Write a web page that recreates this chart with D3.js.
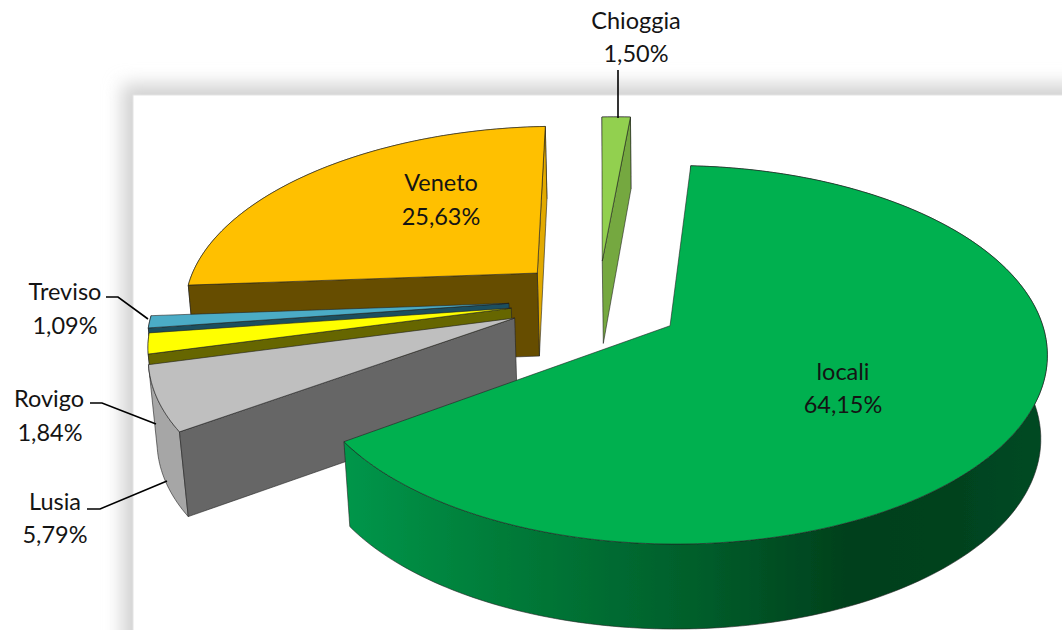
<!DOCTYPE html>
<html><head><meta charset="utf-8">
<script src="https://cdn.jsdelivr.net/npm/d3@7"></script>
<style>html,body{margin:0;padding:0;background:#fff}svg{display:block}text{font-family:Lato,"Open Sans",sans-serif;font-size:23.5px;fill:#141414;text-anchor:middle}</style>
</head><body><svg id="c" width="1062" height="630"></svg>
<script>
// ---- data ----
const categories = ["locali","Lusia","Rovigo","Treviso","Veneto","Chioggia"];
const shares = [64.15,5.79,1.84,1.09,25.63,1.50];
const shareLabels = ["64,15%","5,79%","1,84%","1,09%","25,63%","1,50%"];
// ---- styles ----
const topColors  = ["#00b050","#bfbfbf","#ffff00","#4bacc6","#ffc000","#92d050"];
const startFaceColors = ["#00803a","#666666","#666600","#1e4f5e","#664d00","#75a840"];
const endFaceColors = ["#00803a","#666666","#666600","#1e4f5e","#e2aa00","#75a840"];
const rimColors  = ["url(#rimGrad)","#a6a6a6","#666600","#1e4f5e","#664d00","#75a840"];
// ---- layout ----
const labelPos = [[843,372],[55,502],[49,399],[65,292],[441,183],[636,21]];
const valuePos = [[843,405],[55,535],[50,433],[65,326],[441,217],[636,54]];
const leaders = [null,
  [[87,509],[100,509],[167,481]],
  [[90,403],[102,403],[156,424]],
  [[106,297],[118,297],[148,319]],
  null,
  [[618,70],[618,118]]];
const sliceNudge = [[-0.012,-0.011],[-0.008,0.015],[-0.003,0.015],[-0.008,0.02],[0,0.008],[0,0]];
const sliceDepth = [1,1,0.3,0.3,1,1];

const svg = d3.select("#c");
const defs = svg.append("defs");
defs.append("filter").attr("id","soft").attr("x","-20%").attr("y","-20%").attr("width","140%").attr("height","140%")
  .append("feGaussianBlur").attr("stdDeviation",9);
defs.append("filter").attr("id","crisp").attr("filterUnits","userSpaceOnUse").attr("x",0).attr("y",0).attr("width",1062).attr("height",630)
  .append("feGaussianBlur").attr("stdDeviation",0.35);
const g = defs.append("linearGradient").attr("id","rimGrad").attr("gradientUnits","userSpaceOnUse")
  .attr("x1",345).attr("x2",1047).attr("y1",0).attr("y2",0);
[[0,"#00964a"],[.22,"#007c39"],[.5,"#005e2b"],[.72,"#00401c"],[.88,"#00431f"],[1,"#004a24"]]
  .forEach(s=>g.append("stop").attr("offset",s[0]).attr("stop-color",s[1]));

// plot-area panel with soft shadow
svg.append("rect").attr("x",122).attr("y",84).attr("width",1100).attr("height",700).attr("fill","#d2d2d2").attr("filter","url(#soft)");
svg.append("rect").attr("x",133).attr("y",95).attr("width",1000).attr("height",600).attr("fill","#fff").attr("stroke","#e4e4e4");

// perspective mapping of the pie plane
const X0=668.5, Y0=325, A=368, B=184.5, K=0.1534, L=0.012, M=0.017;
const explode=0.242, center=[-0.195,0.125], R=1;
const depth=d3.scaleLinear().domain([0.85,0.914,1.05,1.21]).range([85,85,83,72]).clamp(true);
const W=(u,v)=>1+K*v-L*u;
const proj=(u,v)=>{const w=W(u,v);return [X0+A*u/w,Y0-B*v/w];};
const projB=(u,v,f)=>{const w=W(u,v);return [X0+A*u/(w+M*f),Y0-B*v/w+f*depth(w)];};

const start=3.75*Math.PI/180;
const pie=d3.pie().sort(null).startAngle(start).endAngle(start+2*Math.PI);
const arcs=pie(shares);
const line=d3.line();
const chart=svg.append("g").attr("filter","url(#crisp)");
const order=[4,5,3,2,1,0];
const camera=[0,-6];
const faces=(t,side,ax,ay)=>{const n=t+side*Math.PI/2;return Math.sin(n)*(camera[0]-ax)+Math.cos(n)*(camera[1]-ay)>0;};

order.forEach(i=>{
  const a=arcs[i], mid=(a.startAngle+a.endAngle)/2, f=sliceDepth[i];
  const ax=center[0]+explode*Math.sin(mid)+sliceNudge[i][0], ay=center[1]+explode*Math.cos(mid)+sliceNudge[i][1];
  const n=Math.max(2,Math.ceil((a.endAngle-a.startAngle)/0.02));
  const ts=d3.range(n+1).map(j=>a.startAngle+(a.endAngle-a.startAngle)*j/n);
  const rim=ts.map(t=>[ax+R*Math.sin(t),ay+R*Math.cos(t)]);
  const draw=(pts,fill)=>chart.append("path").attr("d",line(pts)+"Z").attr("fill",fill)
    .attr("stroke","#222").attr("stroke-width",0.8).attr("stroke-linejoin","round").attr("stroke-opacity",.75);
  const P=rim.map(p=>proj(p[0],p[1])), Q=rim.map(p=>projB(p[0],p[1],f));
  const at=proj(ax,ay), ab=projB(ax,ay,f);
  draw(P.concat(Q.slice().reverse()),rimColors[i]);
  if(faces(a.endAngle,1,ax,ay)) draw([at,P[n],Q[n],ab],endFaceColors[i]);
  if(faces(a.startAngle,-1,ax,ay)) draw([at,P[0],Q[0],ab],startFaceColors[i]);
  draw([at].concat(P),topColors[i]);
});

// labels
categories.forEach((c,i)=>{
  svg.append("text").attr("x",labelPos[i][0]).attr("y",labelPos[i][1]+8).text(c);
  svg.append("text").attr("x",valuePos[i][0]).attr("y",valuePos[i][1]+8).text(shareLabels[i]);
  if(leaders[i]) svg.append("path").attr("d",line(leaders[i])).attr("fill","none").attr("stroke","#000").attr("stroke-width",1.6);
});
</script></body></html>
